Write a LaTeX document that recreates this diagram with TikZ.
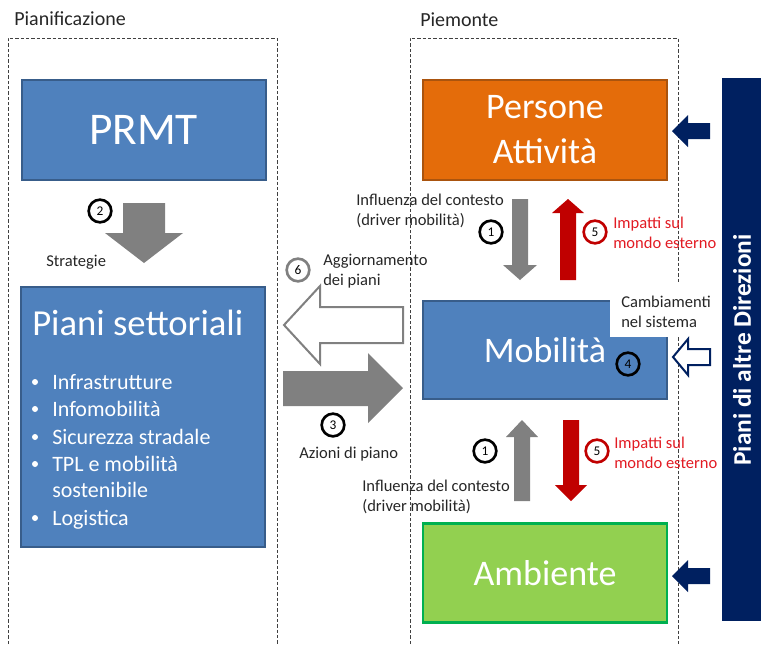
\documentclass[tikz,border=0pt]{standalone}
\usepackage{fontspec}
\setmainfont{Carlito}
\definecolor{boxblue}{RGB}{79,129,189}
\definecolor{boxblueb}{RGB}{56,93,138}
\definecolor{orangef}{RGB}{228,108,10}
\definecolor{orangeb}{RGB}{170,84,14}
\definecolor{greenf}{RGB}{146,208,80}
\definecolor{greenb}{RGB}{0,176,80}
\definecolor{navy}{RGB}{0,32,96}
\definecolor{arrgray}{RGB}{128,128,128}
\definecolor{darkred}{RGB}{192,0,0}
\definecolor{impred}{RGB}{226,27,35}
\definecolor{labtext}{RGB}{38,38,38}
\tikzset{
  px/.style={x=0.75pt,y=-0.75pt},
  frame/.style={draw=black!75,line width=0.75pt,dash pattern=on 2.5pt off 1.5pt},
  bigbox/.style={draw,line width=1.5pt,text=white,inner sep=0pt,minimum width=183pt},
  lab/.style={anchor=west,inner sep=0pt,align=left,text=labtext,font=\fontsize{12.4}{15}\selectfont},
  redlab/.style={lab,text=impred},
  numc/.style={circle,draw=black,line width=2pt,minimum size=17pt,inner sep=0pt,font=\fontsize{10}{11}\selectfont},
  bul/.style={anchor=base west,inner sep=0pt,text=white,font=\fontsize{16.5}{20}\selectfont},
  bdot/.style={circle,fill=white,minimum size=4.5pt,inner sep=0pt},
  grayarrow/.style={fill=arrgray,draw=none},
  redarrow/.style={fill=darkred,draw=none},
  navyarrow/.style={fill=navy,draw=none},
}
\begin{document}
\begin{tikzpicture}[px]
\useasboundingbox (0,0) rectangle (761,644);
% titles
\node[lab,font=\fontsize{15}{18}\selectfont] (tplan) at (14,19) {Pianificazione};
\node[lab,font=\fontsize{15}{18}\selectfont] (tpiem) at (420,20) {Piemonte};
% dashed frames
\draw[frame] (8,644) -- (8,38) -- (277,38) -- (277,644);
\draw[frame] (410,644) -- (410,38) -- (678,38) -- (678,644);
% boxes
\node[bigbox,draw=boxblueb,fill=boxblue,minimum height=75pt,font=\fontsize{34}{40}\selectfont] (prmt) at (143.5,130) {PRMT};
\node[bigbox,draw=orangeb,fill=orangef,minimum height=75pt,align=center,font=\fontsize{27}{33.75}\selectfont] (pers) at (545,130) {Persone\\Attività};
\node[bigbox,draw=boxblueb,fill=boxblue,minimum height=195pt] (piani) at (143,417) {};
\node[bigbox,draw=boxblueb,fill=boxblue,minimum height=73.5pt,font=\fontsize{27}{32}\selectfont] (mob) at (545,350) {Mobilità};
\node[bigbox,draw=greenb,line width=2.2pt,fill=greenf,minimum height=74pt,font=\fontsize{27}{32}\selectfont] (amb) at (545,573) {Ambiente};
% piani settoriali text
\node[anchor=base west,inner sep=0pt,text=white,font=\fontsize{27.5}{32}\selectfont] (pstitle) at (32,335) {Piani settoriali};
\node[bdot] (b1) at (35,382) {};
\node[bul] (i1) at (52,389) {Infrastrutture};
\node[bdot] (b2) at (35,409) {};
\node[bul] (i2) at (52,416) {Infomobilità};
\node[bdot] (b3) at (35,437) {};
\node[bul] (i3) at (52,444) {Sicurezza stradale};
\node[bdot] (b4) at (35,464) {};
\node[bul] (i4) at (52,471) {TPL e mobilità};
\node[bul] (i4b) at (52,497) {sostenibile};
\node[bdot] (b5) at (35,518) {};
\node[bul] (i5) at (52,525) {Logistica};
% cambiamenti label (white background)
\fill[white] (610,283) rectangle (718,337);
\node[lab] (camb) at (621,312) {Cambiamenti\\nel sistema};
% right bar
\fill[navy] (722,78) rectangle (761,621);
\node[rotate=90,text=white,inner sep=0pt,font=\bfseries\fontsize{19}{22}\selectfont] (bar) at (742,350) {Piani di altre Direzioni};
% block arrows
\path[grayarrow] (123,203) -- (165,203) -- (165,233) -- (183,233) -- (144,263) -- (105,233) -- (123,233) -- cycle;
\path[grayarrow] (512,199) -- (528,199) -- (528,265) -- (537,265) -- (520,280) -- (503,265) -- (512,265) -- cycle;
\path[redarrow] (560,280) -- (576,280) -- (576,213) -- (584,213) -- (568,199) -- (552,213) -- (560,213) -- cycle;
\path[grayarrow] (514,501) -- (530,501) -- (530,437) -- (538,437) -- (522,420) -- (506,437) -- (514,437) -- cycle;
\path[redarrow] (563,420) -- (579,420) -- (579,485) -- (587,485) -- (571,501) -- (555,485) -- (563,485) -- cycle;
\draw[draw=arrgray,fill=white,line width=1.5pt,line join=miter] (403,307) -- (320,307) -- (320,286) -- (284,325) -- (320,364) -- (320,343) -- (403,343) -- cycle;
\path[grayarrow] (283,371) -- (368,371) -- (368,353) -- (403,388) -- (368,423) -- (368,406) -- (283,406) -- cycle;
\path[navyarrow] (710,123) -- (688,123) -- (688,115) -- (672,131) -- (688,147) -- (688,139) -- (710,139) -- cycle;
\path[navyarrow] (710,568) -- (688,568) -- (688,560) -- (672,576) -- (688,592) -- (688,584) -- (710,584) -- cycle;
\draw[draw=navy,fill=white,line width=1.5pt,line join=miter] (710,349) -- (688,349) -- (688,339) -- (673,357) -- (688,375) -- (688,365) -- (710,365) -- cycle;
% labels
\node[lab] (infl1) at (356,211) {Influenza del contesto\\(driver mobilità)};
\node[lab] (infl2) at (362,497) {Influenza del contesto\\(driver mobilità)};
\node[redlab] (imp1) at (613,233) {Impatti sul\\mondo esterno};
\node[redlab] (imp2) at (614,453) {Impatti sul\\mondo esterno};
\node[lab] (aggr) at (323,271) {Aggiornamento\\dei piani};
\node[lab] (strat) at (46,262) {Strategie};
\node[lab] (azioni) at (299,454) {Azioni di piano};
% numbered circles
\node[numc] (n2) at (100,211) {2};
\node[numc] (n1a) at (491,232) {1};
\node[numc,draw=darkred] (n5a) at (595,232) {5};
\node[numc,draw=arrgray] (n6) at (298,270) {6};
\node[numc] (n3) at (333,425) {3};
\node[numc] (n4) at (628,364) {4};
\node[numc] (n1b) at (485,451) {1};
\node[numc,draw=darkred] (n5b) at (597,451) {5};
\end{tikzpicture}
\end{document}
